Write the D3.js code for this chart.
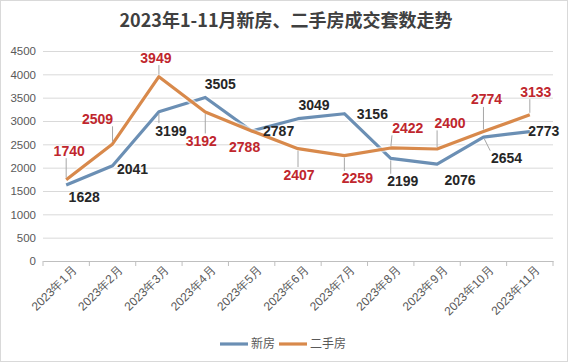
<!DOCTYPE html>
<html>
<head>
<meta charset="utf-8">
<script src="https://cdn.jsdelivr.net/npm/d3@7"></script>
<style>
  html, body { margin: 0; padding: 0; background: #fff; }
  svg { display: block; font-family: "Noto Sans CJK SC", "Liberation Sans", sans-serif; }
</style>
</head>
<body>
<div id="chart"></div>
<script>
/* --- data ------------------------------------------------------------------ */
const months = ["2023年1月","2023年2月","2023年3月","2023年4月","2023年5月","2023年6月",
                "2023年7月","2023年8月","2023年9月","2023年10月","2023年11月"];
const newHomes    = [1628, 2041, 3199, 3505, 2787, 3049, 3156, 2199, 2076, 2654, 2773];
const resaleHomes = [1740, 2509, 3949, 3192, 2788, 2407, 2259, 2422, 2400, 2774, 3133];
const yTicks = [0, 500, 1000, 1500, 2000, 2500, 3000, 3500, 4000, 4500];
const seriesNames = ["新房", "二手房"];
const title = "2023年1-11月新房、二手房成交套数走势";

/* --- label placement (pixel offsets from the point, leader line on/off) ------ */
const newLabelOff = [[18,12],[20,3],[12,19],[15,-13],[27,0],[16,-14],[28,0],[12,23],[23,16],[23,21],[14,0]];
const newLeader   = [0,0,1,0,0,0,0,1,0,1,0];
const resLabelOff = [[3,-29],[-15,-25],[-3,-19],[-4,29],[-7,16],[1,26],[13,23],[17,-20],[13,-26],[3,-32],[6,-23]];
const resLeader   = [1,1,1,1,0,1,1,1,1,1,1];

/* --- layout ---------------------------------------------------------------- */
const W = 568, H = 364;
const plot = {left: 43, right: 553, top: 51, bottom: 261};
const colors = {newH: "#6b8fb4", resale: "#d8894b"};

const svg = d3.select("#chart").append("svg").attr("width", W).attr("height", H);
svg.append("rect").attr("x", 0.5).attr("y", 0.5).attr("width", W - 1).attr("height", H - 3)
  .attr("fill", "#fff").attr("stroke", "#d9d9d9");

const x = d3.scaleBand().domain(months).range([plot.left, plot.right]).padding(0);
const y = d3.scaleLinear().domain([0, 4500]).range([plot.bottom, plot.top]);
const cx = i => x(months[i]) + x.bandwidth() / 2;

/* title */
svg.append("text").attr("x", 286).attr("y", 27).attr("text-anchor", "middle")
  .attr("font-size", 18).attr("font-weight", 700).attr("fill", "#404040").text(title);

/* gridlines + y axis */
const yAxis = svg.append("g").attr("transform", `translate(${plot.left},0)`)
  .call(d3.axisLeft(y).tickValues(yTicks).tickFormat(d3.format("d"))
    .tickSize(-(plot.right - plot.left)).tickPadding(7));
yAxis.select(".domain").remove();
yAxis.selectAll(".tick line").attr("stroke", "#d9d9d9");
yAxis.selectAll(".tick text").attr("fill", "#595959").attr("font-size", 11.5)
  .attr("font-family", "Liberation Sans, sans-serif");

/* x axis */
const xAxis = svg.append("g").attr("transform", `translate(0,${plot.bottom})`)
  .call(d3.axisBottom(x).tickSize(0).tickPadding(0));
xAxis.select(".domain").attr("stroke", "#bfbfbf");
xAxis.selectAll(".tick text")
  .attr("fill", "#595959").attr("font-size", 12)
  .attr("text-anchor", "end").attr("dy", 0)
  .attr("transform", "translate(11,10) rotate(-45)");
svg.append("g").selectAll("line").data(d3.range(months.length + 1)).join("line")
  .attr("x1", i => plot.left + i * x.bandwidth()).attr("x2", i => plot.left + i * x.bandwidth())
  .attr("y1", plot.bottom).attr("y2", plot.bottom + 5).attr("stroke", "#bfbfbf");

/* lines */
const line = d3.line().x((d, i) => cx(i)).y(d => y(d));
[[newHomes, colors.newH], [resaleHomes, colors.resale]].forEach(([vals, col]) => {
  svg.append("path").datum(vals).attr("d", line).attr("fill", "none")
    .attr("stroke", "#fff").attr("stroke-opacity", 0.6).attr("stroke-width", 6)
    .attr("stroke-linejoin", "round");
  svg.append("path").datum(vals).attr("d", line).attr("fill", "none")
    .attr("stroke", col).attr("stroke-width", 3.2).attr("stroke-linejoin", "round");
});

/* data labels with leader lines */
const labelLayer = svg.append("g");
function drawLabels(vals, offs, leaders, fill) {
  vals.forEach((v, i) => {
    const px = cx(i), py = y(v);
    const t = labelLayer.append("text")
      .attr("x", px + offs[i][0]).attr("y", py + offs[i][1])
      .attr("text-anchor", "middle").attr("dy", "0.35em")
      .attr("font-family", "Liberation Sans, sans-serif")
      .attr("font-size", 14).attr("font-weight", 700).attr("fill", fill)
      .text(v);
    if (!leaders[i]) return;
    const b = t.node().getBBox();
    const bx = Math.max(b.x, Math.min(px, b.x + b.width));
    const by = Math.max(b.y + 2, Math.min(py, b.y + b.height - 2));
    const dx = bx - px, dy = by - py, len = Math.hypot(dx, dy);
    if (len < 5) return;
    labelLayer.insert("line", "text")
      .attr("x1", px + dx / len * 2).attr("y1", py + dy / len * 2)
      .attr("x2", bx - dx / len * 1.5).attr("y2", by - dy / len * 1.5)
      .attr("stroke", "#a6a6a6").attr("stroke-width", 1);
  });
}
drawLabels(newHomes, newLabelOff, newLeader, "#262626");
drawLabels(resaleHomes, resLabelOff, resLeader, "#c0262d");

/* legend */
const legend = svg.append("g").attr("transform", "translate(220,344)");
const legendItems = [{name: seriesNames[0], col: colors.newH, x: 0}, {name: seriesNames[1], col: colors.resale, x: 59}];
legendItems.forEach(d => {
  legend.append("line").attr("x1", d.x).attr("x2", d.x + 28).attr("y1", 0).attr("y2", 0)
    .attr("stroke", d.col).attr("stroke-width", 3.2);
  legend.append("text").attr("x", d.x + 31).attr("y", 0).attr("dy", "0.35em")
    .attr("font-size", 12).attr("fill", "#595959").text(d.name);
});
</script>
</body>
</html>
